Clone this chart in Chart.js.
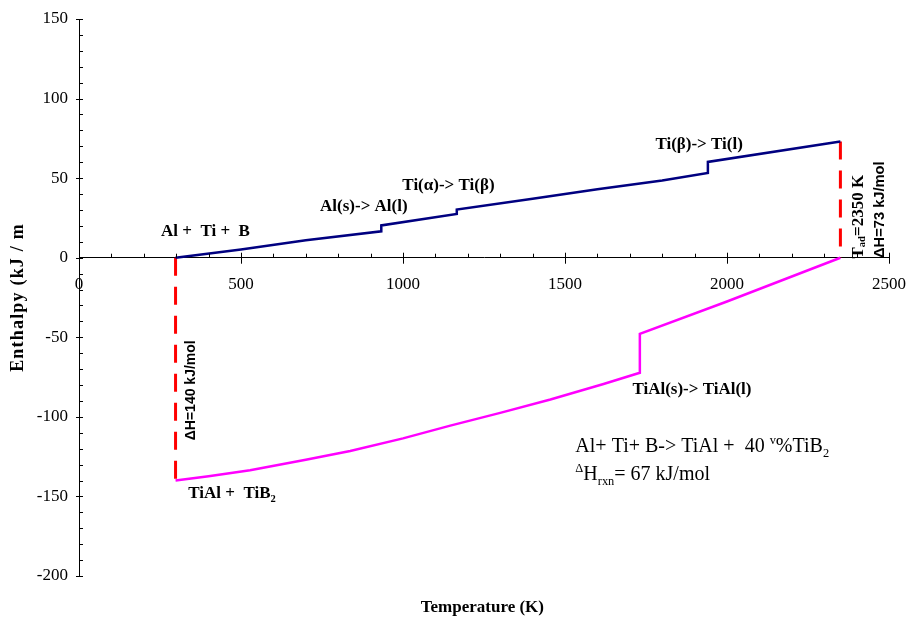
<!DOCTYPE html>
<html>
<head>
<meta charset="UTF-8">
<script src="https://cdn.jsdelivr.net/npm/chart.js"></script>
<title>Enthalpy vs temperature</title>
<style>
  body { margin: 0; background: #fff; }
  .box { width: 907px; height: 624px; position: relative; }
</style>
</head>
<body>
<div class="box"><canvas id="hChart"></canvas></div>
<script>
// reactants Al + Ti + B heated from 298 K (steps at Al melt, Ti alpha/beta, Ti melt)
var reactT = [298, 500, 700, 933, 933, 1166, 1166, 1400, 1600, 1800, 1941, 1941, 2350];
var reactH = [0, 5.2, 11, 16.6, 20.3, 27.5, 30.3, 37, 43, 48.5, 53.3, 60.2, 73];

// products TiAl + TiB2 (step at TiAl melt)
var prodT = [298, 400, 528, 700, 837, 1000, 1146, 1300, 1455, 1619, 1731, 1731, 2000, 2350];
var prodH = [-140, -137.3, -133.6, -127, -121.4, -113.5, -105.5, -97.5, -89.1, -79.4, -72.3, -47.9, -27.5, 0];

// the two dashed enthalpy jumps
var dropT = [298, 298];
var dropH = [0, -140];
var adiaT = [2350, 2350];
var adiaH = [73, 0];

var xTicks = [0, 500, 1000, 1500, 2000, 2500];
var yTicks = [150, 100, 50, 0, -50, -100, -150, -200];

function pts(xs, ys) {
  return xs.map(function (x, i) { return { x: x, y: ys[i] }; });
}

var SERIF = '"Liberation Serif", "Times New Roman", serif';
var SANS = '"Liberation Sans", Arial, sans-serif';

// text pieces, s = 'sub' / 'sup'
function drawRich(ctx, parts, x, y, size, weight, family) {
  var cx = x;
  parts.forEach(function (p) {
    var fs = p.s ? size * 0.62 : size;
    ctx.font = weight + ' ' + fs + 'px ' + family;
    var dy = p.s === 'sub' ? size * 0.22 : (p.s === 'sup' ? -size * 0.42 : 0);
    ctx.fillText(p.t, cx, y + dy);
    cx += ctx.measureText(p.t).width;
  });
}

var notes = [
  { T: 253, H: 13.6, parts: [{ t: 'Al +  Ti +  B' }] },
  { T: 744, H: 29.3, parts: [{ t: 'Al(s)-> Al(l)' }] },
  { T: 998, H: 42.5, parts: [{ t: 'Ti(\u03b1)-> Ti(\u03b2)' }] },
  { T: 1779, H: 68.3, parts: [{ t: 'Ti(\u03b2)-> Ti(l)' }] },
  { T: 1708, H: -85.8, parts: [{ t: 'TiAl(s)-> TiAl(l)' }] },
  { T: 337, H: -151.1, parts: [{ t: 'TiAl +  TiB' }, { t: '2', s: 'sub' }] }
];

var annotate = {
  id: 'annotate',
  afterDraw: function (chart) {
    var ctx = chart.ctx;
    var xs = chart.scales.x, ys = chart.scales.y;
    var x0 = xs.getPixelForValue(0), y0 = ys.getPixelForValue(0);
    ctx.save();
    ctx.strokeStyle = '#000';
    ctx.lineWidth = 1;

    // x tick marks, every 100 K
    for (var t = 0; t <= 2500; t += 100) {
      var px = Math.round(xs.getPixelForValue(t)) + 0.5;
      ctx.beginPath();
      if (t % 500 === 0) { ctx.moveTo(px, y0 - 5); ctx.lineTo(px, y0 + 6); }
      else { ctx.moveTo(px, y0 - 4); ctx.lineTo(px, y0); }
      ctx.stroke();
    }
    // y tick marks, every 10 kJ
    for (var h = -200; h <= 150; h += 10) {
      var py = Math.round(ys.getPixelForValue(h)) + 0.5;
      ctx.beginPath();
      if (h % 50 === 0) { ctx.moveTo(x0 - 3, py); ctx.lineTo(x0 + 4, py); }
      else { ctx.moveTo(x0, py); ctx.lineTo(x0 + 4, py); }
      ctx.stroke();
    }

    ctx.fillStyle = '#000';
    ctx.textAlign = 'left';
    ctx.textBaseline = 'alphabetic';

    notes.forEach(function (n) {
      drawRich(ctx, n.parts, xs.getPixelForValue(n.T), ys.getPixelForValue(n.H), 17, 'bold', SERIF);
    });

    // reaction summary
    drawRich(ctx, [{ t: 'Al+ Ti+ B-> TiAl +  40 ' }, { t: 'v', s: 'sup' }, { t: '%TiB' }, { t: '2', s: 'sub' }],
      xs.getPixelForValue(1532), ys.getPixelForValue(-122.2), 20, 'normal', SERIF);
    drawRich(ctx, [{ t: '\u0394', s: 'sup' }, { t: 'H' }, { t: 'rxn', s: 'sub' }, { t: '= 67 kJ/mol' }],
      xs.getPixelForValue(1532), ys.getPixelForValue(-139.8), 20, 'normal', SERIF);

    // rotated labels beside the dashed jumps
    function vtext(parts, T, H, size, family) {
      ctx.save();
      ctx.translate(xs.getPixelForValue(T), ys.getPixelForValue(H));
      ctx.rotate(-Math.PI / 2);
      ctx.textBaseline = 'middle';
      drawRich(ctx, parts, 0, 0, size, 'bold', family);
      ctx.restore();
    }
    vtext([{ t: '\u0394H=140 kJ/mol' }], 346, -114.7, 14, SANS);
    vtext([{ t: 'T' }, { t: 'ad', s: 'sub' }, { t: '=2350 K' }], 2406, -0.5, 17, SERIF);
    vtext([{ t: '\u0394H=73 kJ/mol' }], 2471, -0.2, 14.7, SANS);

    // axis titles
    ctx.font = 'bold 17px ' + SERIF;
    ctx.textAlign = 'center';
    ctx.textBaseline = 'middle';
    ctx.fillText('Temperature (K)', xs.getPixelForValue(1245), 608);
    ctx.save();
    ctx.font = 'bold 18px ' + SERIF;
    ctx.letterSpacing = '1.2px';
    ctx.translate(18, ys.getPixelForValue(-25));
    ctx.rotate(-Math.PI / 2);
    ctx.fillText('Enthalpy (kJ / m', 0, 0);
    ctx.restore();

    ctx.restore();
  }
};

var line = function (data, color, width, dash) {
  return {
    data: data,
    showLine: true,
    borderColor: color,
    backgroundColor: color,
    borderWidth: width,
    borderDash: dash || [],
    pointRadius: 0,
    tension: 0
  };
};

var plainNum = function (v) { return String(v); };

new Chart(document.getElementById('hChart'), {
  type: 'scatter',
  data: {
    datasets: [
      line(pts(reactT, reactH), '#000080', 2.5),
      line(pts(prodT, prodH), '#ff00ff', 2.5),
      line(pts(dropT, dropH), '#ff0000', 3, [18, 11]),
      line(pts(adiaT, adiaH), '#ff0000', 3, [18, 11])
    ]
  },
  options: {
    responsive: true,
    maintainAspectRatio: false,
    animation: false,
    layout: { padding: { left: 0, right: 18, top: 19, bottom: 48 } },
    plugins: { legend: { display: false }, tooltip: { enabled: false } },
    scales: {
      x: {
        type: 'linear',
        position: { y: 0 },
        min: 0, max: 2500,
        grid: { display: false, drawTicks: false },
        border: { display: true, color: '#000', width: 1 },
        afterBuildTicks: function (s) { s.ticks = xTicks.map(function (v) { return { value: v }; }); },
        afterFit: function (s) { s.paddingLeft = 0; s.paddingRight = 0; },
        ticks: { padding: 17, color: '#000', font: { family: SERIF, size: 17 }, maxRotation: 0, autoSkip: false, callback: plainNum }
      },
      y: {
        type: 'linear',
        position: 'left',
        min: -200, max: 150,
        grid: { display: false, drawTicks: false },
        border: { display: true, color: '#000', width: 1 },
        afterBuildTicks: function (s) { s.ticks = yTicks.map(function (v) { return { value: v }; }); },
        afterFit: function (s) { s.width = 79; s.paddingTop = 0; s.paddingBottom = 0; },
        ticks: { padding: 11, color: '#000', font: { family: SERIF, size: 17 }, autoSkip: false, callback: plainNum }
      }
    }
  },
  plugins: [annotate]
});
</script>
</body>
</html>
